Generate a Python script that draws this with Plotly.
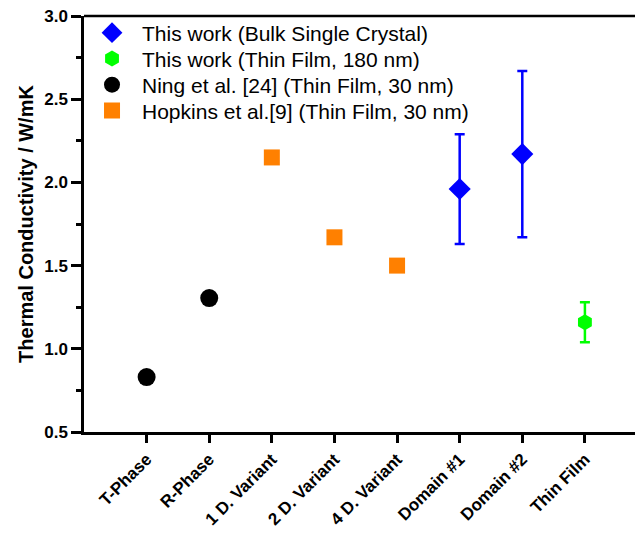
import plotly.graph_objects as go

categories = ["T-Phase", "R-Phase", "1 D. Variant", "2 D. Variant", "4 D. Variant",
              "Domain #1", "Domain #2", "Thin Film"]

# series
ning_x = [0, 1]
ning_y = [0.83, 1.305]

hopkins_x = [2, 3, 4]
hopkins_y = [2.15, 1.67, 1.50]

bulk_x = [5, 6]
bulk_y = [1.96, 2.17]
bulk_err_plus = [0.33, 0.50]
bulk_err_minus = [0.33, 0.50]

film_x = [7]
film_y = [1.16]
film_err = [0.12]

y_ticks = [0.5, 1.0, 1.5, 2.0, 2.5, 3.0]
y_ticklabels = ["0.5", "1.0", "1.5", "2.0", "2.5", "3.0"]
y_minor = [0.75, 1.25, 1.75, 2.25, 2.75]

FONT = "Liberation Sans, Arial, sans-serif"

fig = go.Figure()

fig.add_trace(go.Scatter(
    x=bulk_x, y=bulk_y, mode="markers", name="This work (Bulk Single Crystal)",
    legend="legend",
    marker=dict(symbol="diamond", size=17, color="#0000FF"),
    error_y=dict(type="data", array=bulk_err_plus, arrayminus=bulk_err_minus,
                 color="#0000FF", thickness=2.5, width=5),
))
fig.add_trace(go.Scatter(
    x=film_x, y=film_y, mode="markers", name="This work (Thin Film, 180 nm)",
    legend="legend2",
    marker=dict(symbol="hexagon", size=16, color="#00FF00"),
    error_y=dict(type="data", array=film_err, color="#00FF00", thickness=2.5, width=5),
))
fig.add_trace(go.Scatter(
    x=ning_x, y=ning_y, mode="markers", name="Ning et al. [24] (Thin Film, 30 nm)",
    legend="legend3",
    marker=dict(symbol="circle", size=18, color="#000000"),
))
fig.add_trace(go.Scatter(
    x=hopkins_x, y=hopkins_y, mode="markers", name="Hopkins et al.[9] (Thin Film, 30 nm)",
    legend="legend4",
    marker=dict(symbol="square", size=16, color="#FF8000"),
))


def leg(y):
    return dict(x=-0.0036, y=y, xanchor="left", yanchor="middle",
                font=dict(size=21, family=FONT), bgcolor="rgba(0,0,0,0)",
                itemwidth=50, borderwidth=0)


fig.update_layout(
    template="none",
    width=627, height=528,
    margin=dict(l=76, r=0, t=8, b=104, autoexpand=False),
    paper_bgcolor="white", plot_bgcolor="white",
    font=dict(family=FONT, color="black"),
    showlegend=True,
    legend=leg(0.959),
    legend2=leg(0.897),
    legend3=leg(0.834),
    legend4=leg(0.772),
    xaxis=dict(
        range=[-1, 7.80], automargin=False, ticklabeloverflow="allow",
        tickmode="array", tickvals=list(range(len(categories))), ticktext=categories,
        tickangle=-45, tickfont=dict(size=17, family=FONT, weight="bold"),
        ticks="outside", ticklen=8, tickwidth=2.5, tickcolor="black",
        showline=True, linecolor="black", linewidth=2.5,
        showgrid=False, zeroline=False,
    ),
    yaxis=dict(
        range=[0.5, 3.0], automargin=False, ticklabeloverflow="allow",
        tickmode="array", tickvals=y_ticks, ticktext=y_ticklabels,
        tickfont=dict(size=17, family=FONT, weight="bold"),
        ticks="outside", ticklen=10, tickwidth=2.5, tickcolor="black",
        minor=dict(tickvals=y_minor, ticks="outside",
                   ticklen=5, tickwidth=2.5, tickcolor="black"),
        showline=True, linecolor="black", linewidth=2.5,
        showgrid=False, zeroline=False,
        title=dict(text="Thermal Conductivity / W/mK",
                   font=dict(size=20, family=FONT, weight="bold"), standoff=6),
    ),
    shapes=[dict(type="line", xref="paper", yref="paper", x0=0, x1=1, y0=1, y1=1,
                 line=dict(color="black", width=2.5))],
)

fig.write_html("out.html")
